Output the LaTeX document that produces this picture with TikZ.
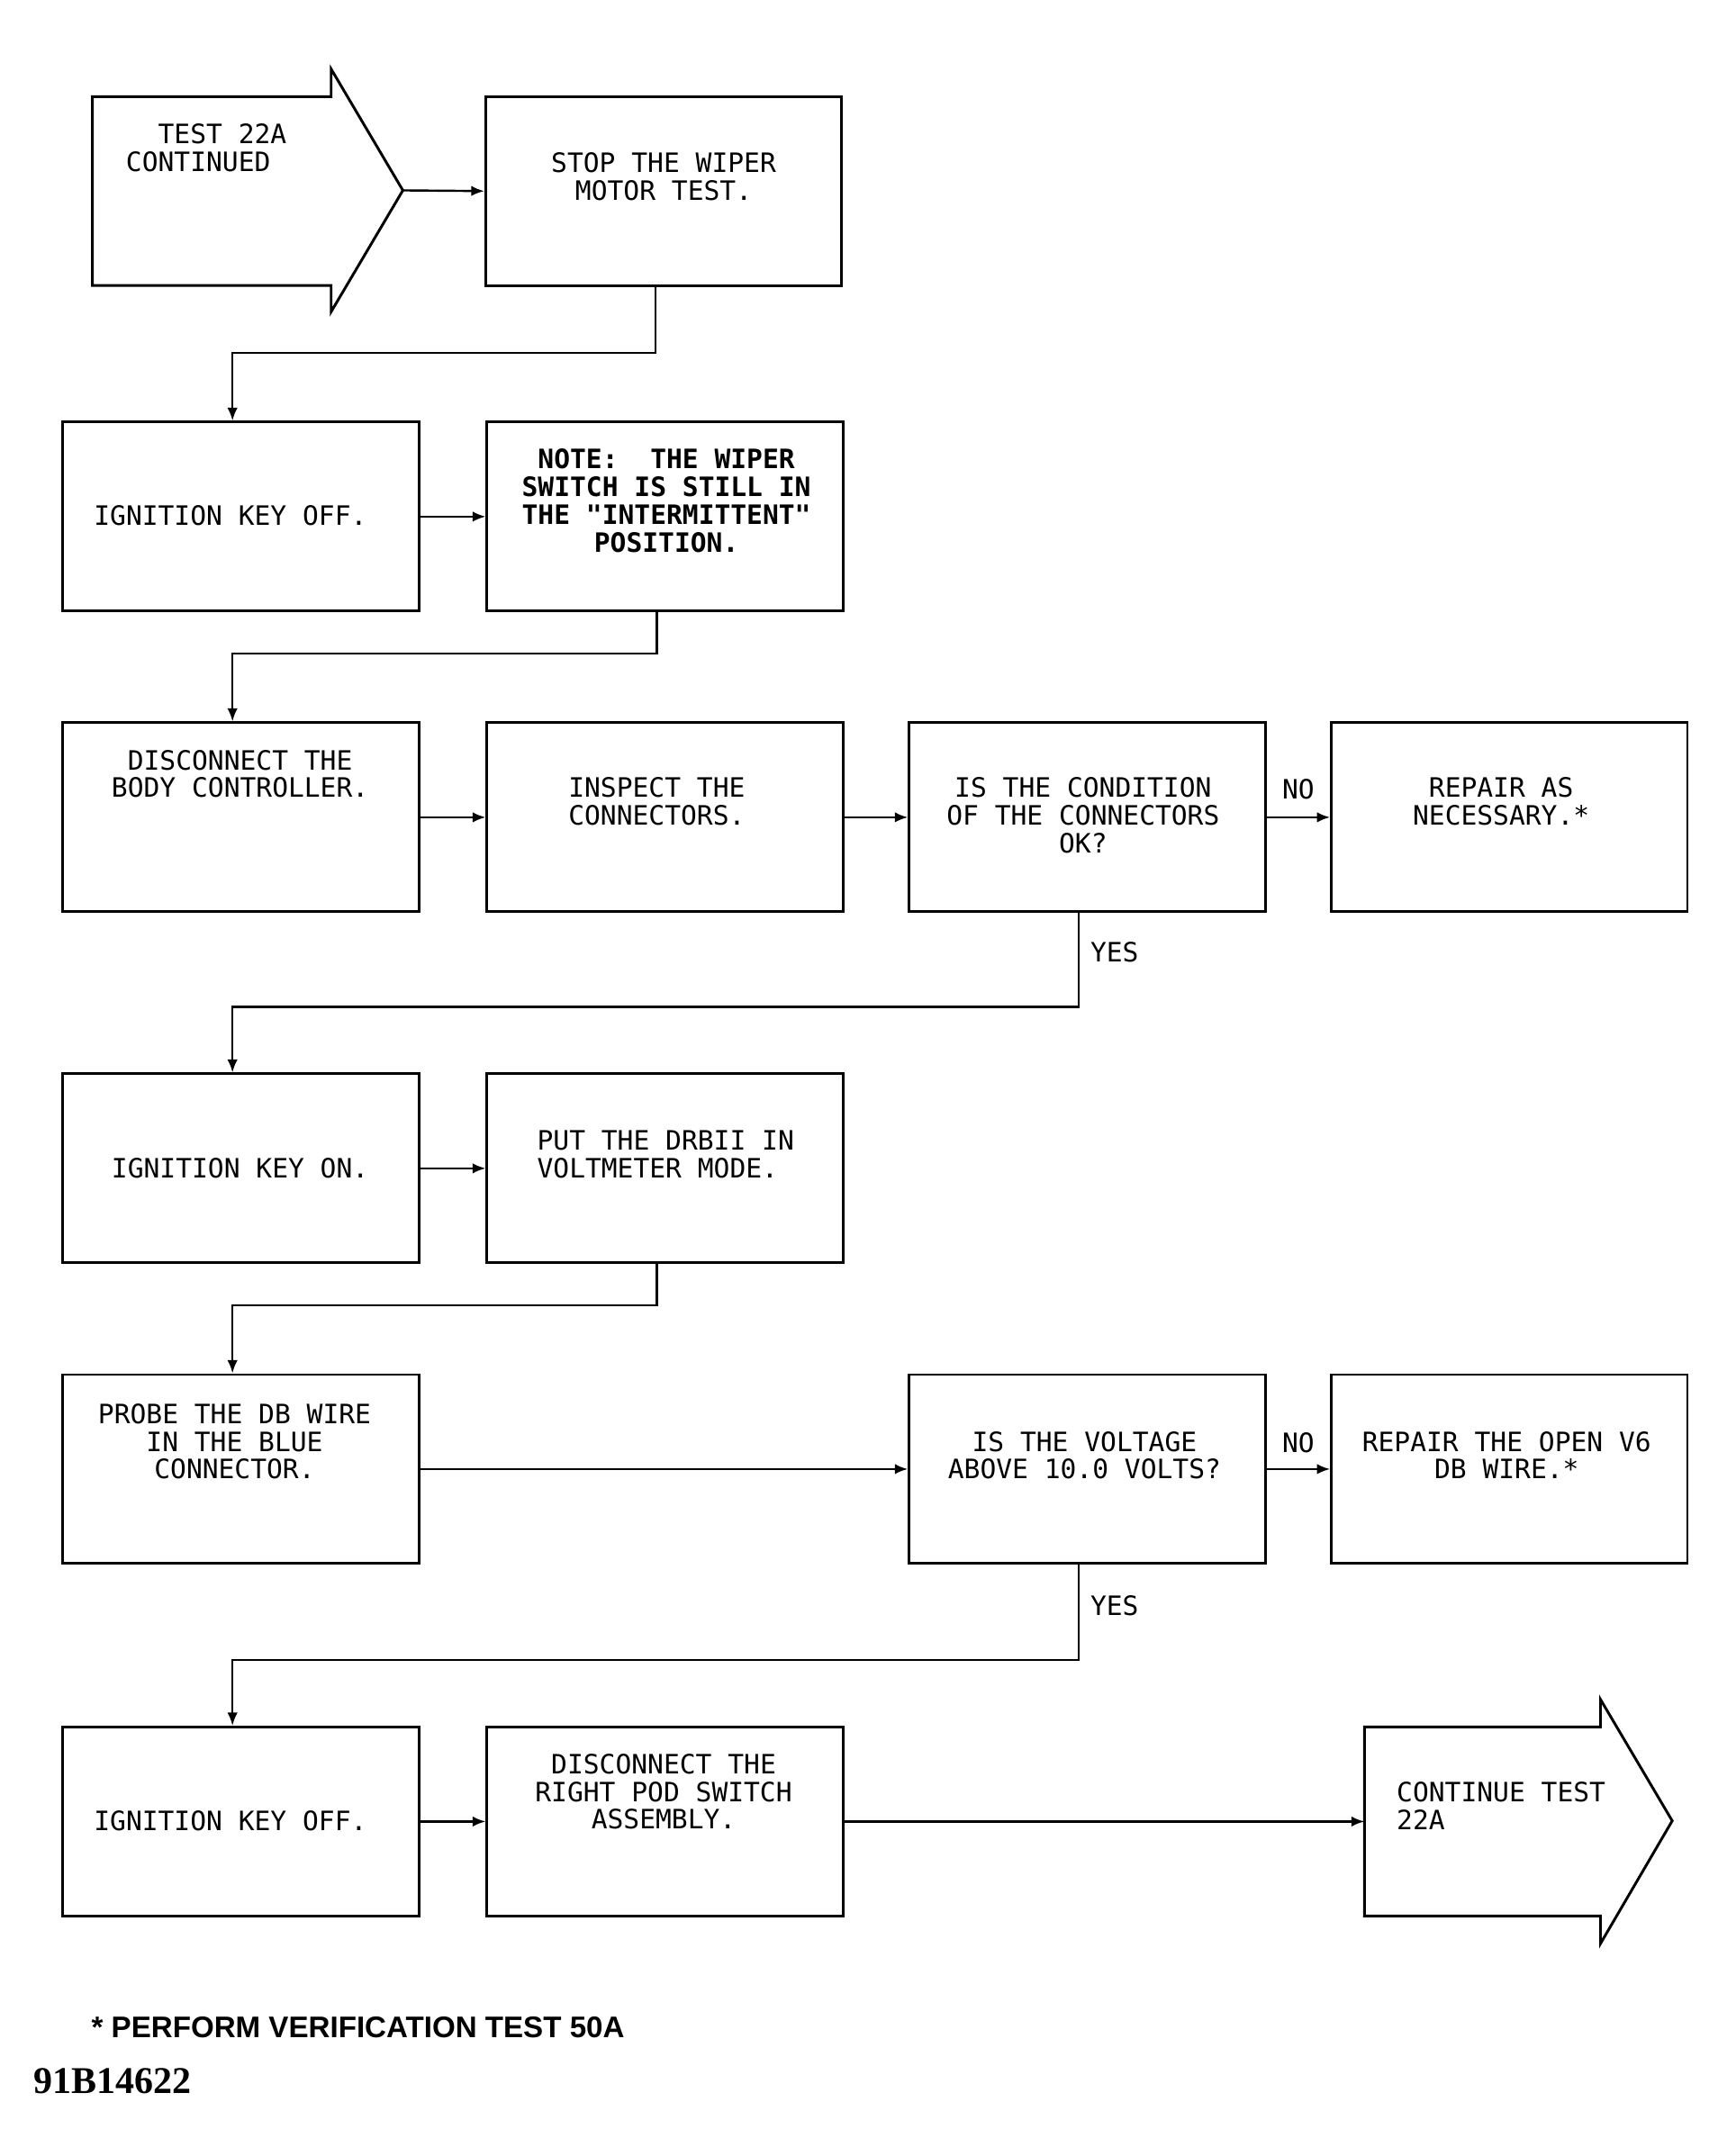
\documentclass[tikz,border=0pt]{standalone}
\usepackage{fontspec}
\setmainfont{DejaVu Sans Mono}[Ligatures=TeXOff]
\newfontfamily\footfont{Liberation Sans}
\newfontfamily\figfont{Liberation Serif}
\usepackage{tikz}
\usetikzlibrary{arrows.meta,positioning,calc}

\tikzset{
  box/.style={draw, line width=1.1pt, minimum width=5.16cm, minimum height=2.74cm, inner sep=0pt},
  txt/.style={align=center, inner sep=0pt, font=\fontsize{11}{11.4}\selectfont},
  lbl/.style={inner sep=0pt, font=\fontsize{11}{11.4}\selectfont},
  arr/.style={line width=0.9pt, -{Latex[length=1.9mm,width=1.5mm]}},
}
\newcommand{\dq}{{\char34}}

\begin{document}
\begin{tikzpicture}[x=0.02cm, y=-0.02cm]
    \useasboundingbox (0,0) rectangle (1245,1563);

    % entry arrow
    \draw[line width=1.1pt] (67,70) -- (240,70) -- (240,50) -- (292,138) -- (240,226) -- (240,207) -- (67,207) -- cycle;
    \coordinate (in) at (292,138);
    \node[lbl, anchor=west, align=left] (int) at (91,107) {\phantom{TE}TEST 22A\\CONTINUED};

    \node[box] (stop) at (481,138.5) {};
    \node[txt] (stopt) at (481,128) {STOP THE WIPER\\MOTOR TEST.};

    \node[box] (ign1) at (174.5,374.5) {};
    \node[txt] (ign1t) at (167,374) {IGNITION KEY OFF.};
    \node[box] (note) at (482,374.5) {};
    \node[txt, font=\fontsize{11}{11.4}\selectfont\bfseries] (notet) at (483,363) {NOTE:~~THE WIPER\\SWITCH IS STILL IN\\THE \dq INTERMITTENT\dq\\POSITION.};

    \node[box] (disc) at (174.5,592.5) {};
    \node[txt] (disct) at (174,561) {DISCONNECT THE\\BODY CONTROLLER.};
    \node[box] (insp) at (482,592.5) {};
    \node[txt] (inspt) at (476,581) {INSPECT THE\\CONNECTORS.};
    \node[box] (cond) at (788,592.5) {};
    \node[txt] (condt) at (785,591) {IS THE CONDITION\\OF THE CONNECTORS\\OK?};
    \node[box] (rep1) at (1094,592.5) {};
    \node[txt] (rep1t) at (1088,581) {REPAIR AS\\NECESSARY.*};

    \node[box] (ignon) at (174.5,847) {};
    \node[txt] (ignont) at (174,847) {IGNITION KEY ON.};
    \node[box] (drb) at (482,847) {};
    \node[txt, anchor=west, align=left] (drbt) at (389,837) {PUT THE DRBII IN\\VOLTMETER MODE.};

    \node[box] (probe) at (174.5,1065) {};
    \node[txt] (probet) at (170,1045) {PROBE THE DB WIRE\\IN THE BLUE\\CONNECTOR.};
    \node[box] (volt) at (788,1065) {};
    \node[txt] (voltt) at (786,1055) {IS THE VOLTAGE\\ABOVE 10.0 VOLTS?};
    \node[box] (rep2) at (1094,1065) {};
    \node[txt] (rep2t) at (1092,1055) {REPAIR THE OPEN V6\\DB WIRE.*};

    \node[box] (ign2) at (174.5,1320.5) {};
    \node[txt] (ign2t) at (167,1320) {IGNITION KEY OFF.};
    \node[box] (pod) at (482,1320.5) {};
    \node[txt] (podt) at (481,1299) {DISCONNECT THE\\RIGHT POD SWITCH\\ASSEMBLY.};

    % exit arrow
    \draw[line width=1.1pt] (989,1252) -- (1160,1252) -- (1160,1232) -- (1212,1320) -- (1160,1409) -- (1160,1389) -- (989,1389) -- cycle;
    \coordinate (out) at (989,1320.5);
    \node[lbl, anchor=west, align=left] (outt) at (1012,1309) {CONTINUE TEST\\22A};

    % connectors
    \draw[arr] (in) -- (stop.west);
    \draw[arr] ([xshift=-0.12cm]stop.south) -- ++(0,48) -| ([xshift=-0.12cm]ign1.north);
    \draw[arr] (ign1.east) -- (note.west);
    \draw[arr] ([xshift=-0.12cm]note.south) -- ++(0,30) -| ([xshift=-0.12cm]disc.north);
    \draw[arr] (disc.east) -- (insp.west);
    \draw[arr] (insp.east) -- (cond.west);
    \draw[arr] (cond.east) -- (rep1.west);
    \draw[arr] ([xshift=-0.12cm]cond.south) -- ++(0,68) -| ([xshift=-0.12cm]ignon.north);
    \draw[arr] (ignon.east) -- (drb.west);
    \draw[arr] ([xshift=-0.12cm]drb.south) -- ++(0,30) -| ([xshift=-0.12cm]probe.north);
    \draw[arr] (probe.east) -- (volt.west);
    \draw[arr] (volt.east) -- (rep2.west);
    \draw[arr] ([xshift=-0.12cm]volt.south) -- ++(0,69) -| ([xshift=-0.12cm]ign2.north);
    \draw[arr] (ign2.east) -- (pod.west);
    \draw[arr] (pod.east) -- (out);

    \node[lbl] (no1) at (941,572) {NO};
    \node[lbl] (no2) at (941,1046) {NO};
    \node[lbl, anchor=west] (yes1) at (790,690) {YES};
    \node[lbl, anchor=west] (yes2) at (790,1164) {YES};

    \node[anchor=west, inner sep=0pt, font=\footfont\fontsize{12.3}{14}\selectfont\bfseries] (note50) at (66,1470) {* PERFORM VERIFICATION TEST 50A};
    \node[anchor=west, inner sep=0pt, font=\figfont\fontsize{15.6}{18}\selectfont\bfseries] (fig) at (24,1509) {91B14622};
\end{tikzpicture}
\end{document}
